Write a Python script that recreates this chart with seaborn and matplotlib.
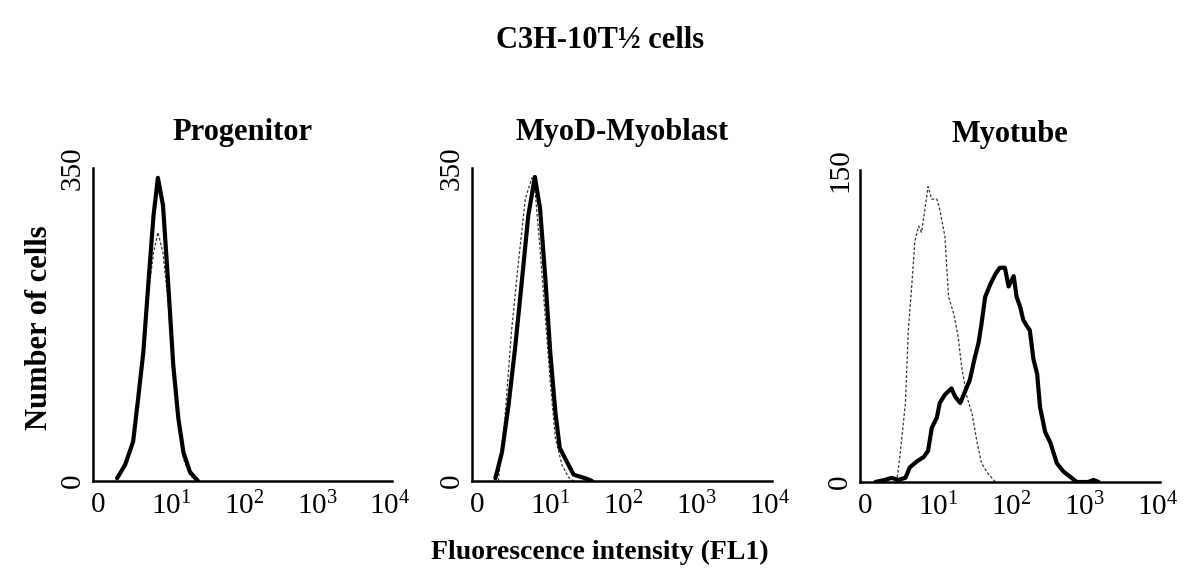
import numpy as np
import pandas as pd
import matplotlib
matplotlib.use("Agg")
import matplotlib.pyplot as plt
import seaborn as sns

# values: x in decades (log10 of FL1), y = cell counts
panel_titles = ["Progenitor", "MyoD-Myoblast", "Myotube"]
y_max = [350, 350, 150]
x_tick_labels = ["0", "$10^1$", "$10^2$", "$10^3$", "$10^4$"]

# Progenitor
prog_x = [0.26, 0.37, 0.48, 0.55, 0.62, 0.69, 0.76, 0.82, 0.89, 0.96, 1.03, 1.10, 1.17, 1.26, 1.37]
prog_stained = [3, 18, 44, 93, 144, 222, 297, 339, 308, 222, 130, 70, 32, 10, 0]
prog_control = [3, 20, 46, 95, 142, 210, 255, 278, 255, 200, 120, 60, 25, 6, 0]

# MyoD-Myoblast
myob_x = [0.25, 0.34, 0.43, 0.52, 0.61, 0.70, 0.79, 0.86, 0.93, 1.00, 1.07, 1.13, 1.23, 1.32, 1.48, 1.57]
myob_stained = [3, 32, 85, 149, 222, 297, 340, 305, 230, 144, 77, 37, 21, 7, 3, 0]
myob_ctrl_x = [0.29, 0.38, 0.47, 0.56, 0.66, 0.75, 0.79, 0.86, 0.93, 1.00, 1.07, 1.16, 1.25, 1.32]
myob_control = [0, 70, 167, 241, 316, 339, 327, 260, 186, 111, 48, 18, 4, 0]

# Myotube
myot_x = [0.14, 0.27, 0.36, 0.45, 0.55, 0.61, 0.71, 0.80, 0.86, 0.91, 0.98, 1.02, 1.09, 1.18,
          1.23, 1.30, 1.37, 1.43, 1.50, 1.55, 1.59, 1.64, 1.71, 1.78, 1.84, 1.91, 1.96, 2.03,
          2.07, 2.12, 2.16, 2.21, 2.25, 2.30, 2.35, 2.39, 2.46, 2.53, 2.62, 2.71, 2.82, 2.89,
          3.05, 3.12, 3.19]
myot_stained = [0, 1, 2, 1, 2, 7, 10, 12, 15, 26, 31, 38, 42, 45,
                41, 38, 44, 49, 60, 67, 76, 89, 95, 100, 103, 103, 94, 99,
                89, 84, 78, 75, 73, 59, 52, 36, 24, 19, 9, 5, 2, 0,
                0, 1, 0]
myot_ctrl_x = [0.43, 0.48, 0.55, 0.59, 0.64, 0.68, 0.73, 0.77, 0.82, 0.86, 0.91, 0.98, 1.02,
               1.09, 1.14, 1.21, 1.27, 1.32, 1.39, 1.46, 1.53, 1.59, 1.68, 1.78]
myot_control = [0, 14, 38, 73, 96, 116, 123, 120, 132, 142, 136, 136, 131,
                118, 89, 81, 70, 55, 41, 33, 19, 9, 4, 0]

panels = [
    (prog_x, prog_stained, prog_x, prog_control),
    (myob_x, myob_stained, myob_ctrl_x, myob_control),
    (myot_x, myot_stained, myot_ctrl_x, myot_control),
]

sns.set_theme(style="white")
plt.rcParams["font.family"] = ["Liberation Serif", "DejaVu Serif"]
plt.rcParams["mathtext.fontset"] = "custom"
plt.rcParams["mathtext.rm"] = "Liberation Serif"
plt.rcParams["mathtext.it"] = "Liberation Serif"
plt.rcParams["mathtext.bf"] = "Liberation Serif:bold"
for key in ["text.color", "axes.labelcolor", "xtick.color", "ytick.color"]:
    plt.rcParams[key] = "black"

fig = plt.figure(figsize=(12, 5.86), dpi=100)
boxes = [
    [0.0775, 0.1792, 0.2492, 0.5341],
    [0.3933, 0.1792, 0.2500, 0.5341],
    [0.7167, 0.1775, 0.2500, 0.5324],
]

for i, (sx, sy, cx, cy) in enumerate(panels):
    ax = fig.add_axes(boxes[i])
    ctrl = pd.DataFrame({"fl1": 10 ** np.array(cx), "count": cy})
    stain = pd.DataFrame({"fl1": 10 ** np.array(sx), "count": sy})
    sns.lineplot(data=ctrl, x="fl1", y="count", ax=ax, color="#333333",
                 linewidth=0.9, linestyle=(0, (2.2, 1.6)))
    sns.lineplot(data=stain, x="fl1", y="count", ax=ax, color="black",
                 linewidth=3.0)
    ax.set_xscale("log")
    ax.set_xlim(10 ** -0.07, 10 ** 4.03)
    ax.set_ylim(0, y_max[i])
    ax.set_xticks([1, 10, 100, 1000, 10000])
    ax.set_xticklabels(x_tick_labels, fontsize=21)
    ax.minorticks_off()
    ax.set_yticks([0, y_max[i]])
    ax.set_yticklabels(["0", str(y_max[i])], rotation=90, va="center", fontsize=21)
    ax.get_yticklabels()[1].set_y(y_max[i] * 0.99)
    ax.tick_params(axis="x", length=0, pad=8)
    ax.tick_params(axis="y", length=0, pad=5)
    ax.set_xlabel("")
    ax.set_ylabel("")
    sns.despine(ax=ax)
    for side in ["left", "bottom"]:
        ax.spines[side].set_linewidth(1.8)
        ax.spines[side].set_color("black")
    ax.set_title(panel_titles[i], fontsize=22, fontweight="bold", pad=20)

fig.text(0.5, 1 - 40 / 586, "C3H-10T½ cells", ha="center", va="center",
         fontsize=22, fontweight="bold")
fig.text(0.5, 1 - 552 / 586, "Fluorescence intensity (FL1)", ha="center", va="center",
         fontsize=20, fontweight="bold")
fig.text(40 / 1200, 1 - 328 / 586, "Number of cells", ha="center", va="center",
         rotation=90, fontsize=22, fontweight="bold")

fig.savefig("out.png", dpi=100)
